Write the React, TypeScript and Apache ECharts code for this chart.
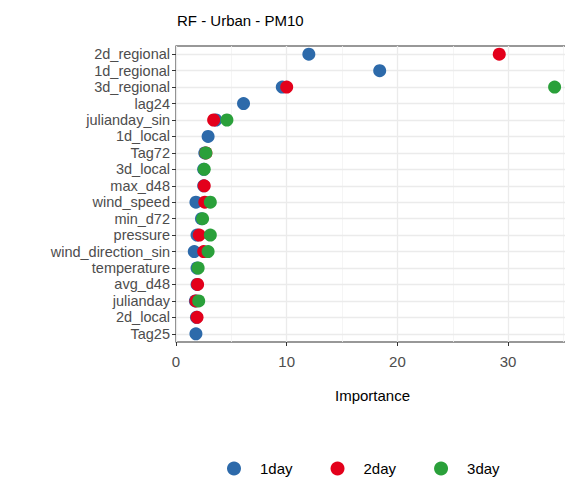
import { useEffect, useRef } from "react";
import * as echarts from "echarts";

const features = [
  "2d_regional", "1d_regional", "3d_regional", "lag24", "julianday_sin", "1d_local",
  "Tag72", "3d_local", "max_d48", "wind_speed", "min_d72", "pressure",
  "wind_direction_sin", "temperature", "avg_d48", "julianday", "2d_local", "Tag25",
];
const day1 = [12.0, 18.4, 9.6, 6.1, 3.6, 2.9, 2.6, 2.5, 2.5, 1.8, 2.3, 1.9, 1.65, 1.9, 1.9, 1.75, 1.85, 1.8];
const day2 = [29.2, null, 10.0, null, 3.4, null, 2.7, null, 2.55, 2.6, null, 2.1, 2.5, null, 1.95, 1.8, 1.9, null];
const day3 = [null, null, 34.2, null, 4.6, null, 2.7, 2.55, null, 3.1, 2.4, 3.1, 2.9, 2.0, null, 2.05, null, null];

const colors = ["#2D6AAA", "#E3001B", "#2AA03A"];

export default function App() {
  const ref = useRef<HTMLDivElement>(null);

  useEffect(() => {
    if (!ref.current) return;
    const chart = echarts.init(ref.current, undefined, { renderer: "svg" });
    const font = "Liberation Sans, Arial, sans-serif";
    const dots = (name: string, data: (number | null)[], i: number) => ({
      name,
      type: "scatter",
      symbolSize: 13,
      itemStyle: { color: colors[i], opacity: 1 },
      data: data.map((v, k) => (v == null ? null : [v, features[k]])),
      z: 10,
    });

    chart.setOption({
      animation: false,
      title: {
        text: "RF - Urban - PM10",
        left: 164,
        top: 0,
        textStyle: { fontFamily: font, fontSize: 15, fontWeight: "normal", color: "#000" },
      },
      legend: {
        top: 448,
        left: 214,
        itemGap: 38,
        icon: "circle",
        itemWidth: 14,
        itemHeight: 14,
        textStyle: { fontFamily: font, fontSize: 15, color: "#000", padding: [0, 0, 0, 14] },
        data: ["1day", "2day", "3day"],
      },
      grid: {
        left: 168,
        right: 4,
        top: 38,
        height: 296,
        show: true,
        borderColor: "#333",
        borderWidth: 1.2,
      },
      xAxis: {
        type: "value",
        min: 0,
        max: 35.5,
        interval: 10,
        name: "Importance",
        nameLocation: "middle",
        nameGap: 46,
        nameTextStyle: { fontFamily: font, fontSize: 15, color: "#000" },
        axisLine: { show: false },
        axisTick: { show: true, length: 4, lineStyle: { color: "#333" } },
        axisLabel: { fontFamily: font, fontSize: 15, color: "#4d4d4d", margin: 12, showMaxLabel: false },
        splitLine: { lineStyle: { color: "#ebebeb", width: 1.3 } },
        minorTick: { show: false, splitNumber: 2 },
        minorSplitLine: { show: true, lineStyle: { color: "#f2f2f2", width: 0.8 } },
      },
      yAxis: {
        type: "category",
        inverse: true,
        data: features,
        axisLine: { show: false },
        axisTick: { show: true, alignWithLabel: true, length: 4, interval: 0, lineStyle: { color: "#333" } },
        axisLabel: { fontFamily: font, fontSize: 14.5, color: "#4d4d4d", margin: 6, interval: 0 },
        splitLine: { show: false },
      },
      series: [
        {
          type: "scatter",
          data: [],
          silent: true,
          z: 0,
          markLine: {
            silent: true,
            z: 0,
            symbol: "none",
            label: { show: false },
            lineStyle: { color: "#ebebeb", width: 1.3, type: "solid" },
            data: features.map((f) => ({ yAxis: f })),
          },
        },
        dots("1day", day1, 0),
        dots("2day", day2, 1),
        dots("3day", day3, 2),
      ],
    });

    return () => chart.dispose();
  }, []);

  return <div ref={ref} style={{ width: 565, height: 484 }} />;
}
